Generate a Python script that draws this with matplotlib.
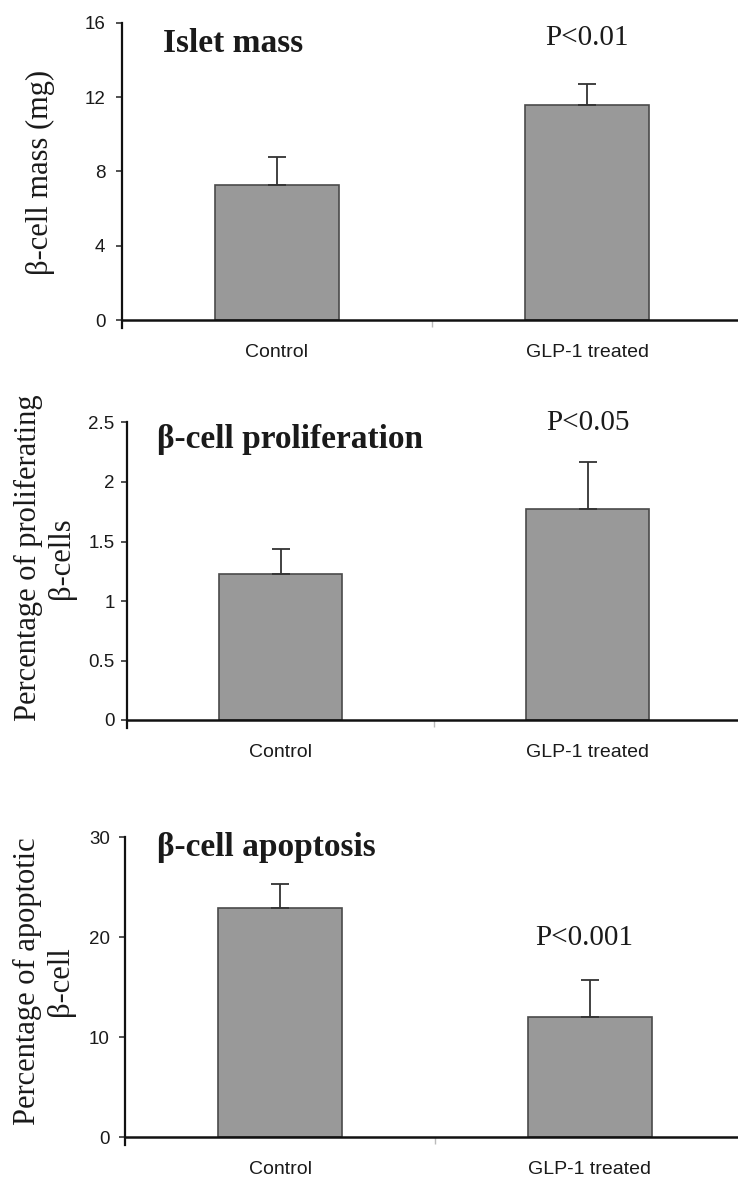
import matplotlib
matplotlib.use('Agg')
import matplotlib.pyplot as plt
import numpy as np

# data
categories = ['Control', 'GLP-1 treated']

mass_mean = [7.25, 11.57]
mass_err = [1.51, 1.13]

prolif_mean = [1.23, 1.77]
prolif_err = [0.21, 0.40]

apop_mean = [22.97, 12.03]
apop_err = [2.33, 3.67]

W, H = 738, 1180
fig = plt.figure(figsize=(W / 100, H / 100), dpi=100)

serif = 'Liberation Serif'
sans = 'Liberation Sans'


def make_panel(left, top, bottom, spacing, ymax, yticks, yticklabels, means, errs,
               title, title_xy, ptext, p_xy, ylabel, ylabel_xy, ypad):
    ext = 8  # y axis pokes a little below the x axis
    ppu = (bottom - top) / ymax
    ax = fig.add_axes([left / W, 1 - (bottom + ext) / H,
                       2 * spacing / W, (bottom + ext - top) / H])
    x = np.arange(len(categories))
    ax.bar(x, means, 0.4, color='#999999', edgecolor='#4a4a4a', linewidth=1.2, zorder=2)
    ax.errorbar(x, means, yerr=[np.zeros(len(errs)), errs], fmt='none',
                ecolor='#333333', elinewidth=1.3, capsize=6.5, capthick=1.3, zorder=3)
    ax.set_xlim(-0.5, 1.5)
    ax.set_ylim(-ext / ppu, ymax)

    for s in ['top', 'right']:
        ax.spines[s].set_visible(False)
    ax.spines['bottom'].set_position(('data', 0))
    ax.spines['bottom'].set_linewidth(1.8)
    ax.spines['bottom'].set_color('#111111')
    ax.spines['left'].set_linewidth(1.6)
    ax.spines['left'].set_color('#111111')

    ax.set_yticks(yticks)
    ax.set_yticklabels(yticklabels, fontfamily=sans, fontsize=13.5, color='#1a1a1a')
    ax.tick_params(axis='y', direction='out', length=4, width=1.1, color='#222222', pad=ypad)

    ax.set_xticks(x)
    ax.set_xticklabels(categories, fontfamily=sans, fontsize=14, color='#1a1a1a')
    ax.tick_params(axis='x', which='major', length=0, pad=17)
    ax.set_xticks([0.5], minor=True)
    ax.tick_params(axis='x', which='minor', direction='out', length=5, width=1, color='#bbbbbb')

    fig.text(title_xy[0] / W, 1 - title_xy[1] / H, title, fontfamily=serif,
             fontweight='bold', fontsize=24, color='#1a1a1a', ha='left', va='baseline')
    fig.text(p_xy[0] / W, 1 - p_xy[1] / H, ptext, fontfamily=serif,
             fontsize=21, color='#1a1a1a', ha='center', va='baseline')
    fig.text(ylabel_xy[0] / W, 1 - ylabel_xy[1] / H, ylabel, fontfamily=serif,
             fontsize=22, color='#1a1a1a', rotation=90, ha='center', va='center',
             multialignment='center', linespacing=1.15)
    return ax


make_panel(122, 22.7, 320, 310, 16, [0, 4, 8, 12, 16], ['0', '4', '8', '12', '16'],
           mass_mean, mass_err, 'Islet mass', (163, 52), 'P<0.01', (587, 45),
           'β-cell mass (mg)', (40, 172), 8)

make_panel(127, 422.5, 720, 307, 2.5, [0, 0.5, 1, 1.5, 2, 2.5],
           ['0', '0.5', '1', '1.5', '2', '2.5'],
           prolif_mean, prolif_err, 'β-cell proliferation', (157, 448), 'P<0.05', (588, 430),
           'Percentage of proliferating\nβ-cells', (45, 558), 5)

make_panel(125, 837.3, 1137, 310, 30, [0, 10, 20, 30], ['0', '10', '20', '30'],
           apop_mean, apop_err, 'β-cell apoptosis', (157, 856), 'P<0.001', (584, 945),
           'Percentage of apoptotic\nβ-cell', (44, 981), 7)

plt.savefig('out.png', dpi=100)
